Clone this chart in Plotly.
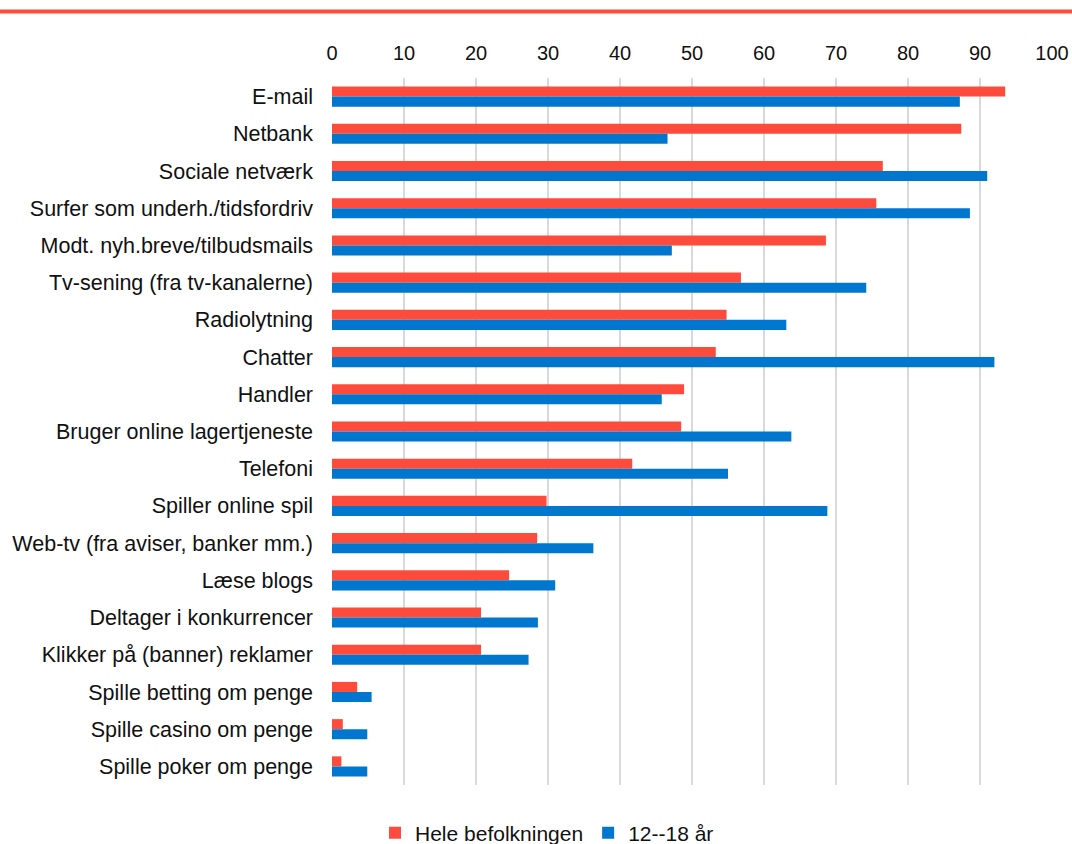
import plotly.graph_objects as go

# Internet activities, share in percent
categories = [
    "E-mail", "Netbank", "Sociale netværk", "Surfer som underh./tidsfordriv",
    "Modt. nyh.breve/tilbudsmails", "Tv-sening (fra tv-kanalerne)", "Radiolytning",
    "Chatter", "Handler", "Bruger online lagertjeneste", "Telefoni",
    "Spiller online spil", "Web-tv (fra aviser, banker mm.)", "Læse blogs",
    "Deltager i konkurrencer", "Klikker på (banner) reklamer",
    "Spille betting om penge", "Spille casino om penge", "Spille poker om penge",
]
hele_befolkningen = [93.5, 87.4, 76.5, 75.6, 68.6, 56.8, 54.8, 53.3, 48.9, 48.5,
                     41.7, 29.8, 28.5, 24.6, 20.7, 20.7, 3.5, 1.5, 1.3]
unge_12_18 = [87.2, 46.6, 91.0, 88.6, 47.2, 74.2, 63.1, 92.0, 45.8, 63.8,
              55.0, 68.8, 36.3, 31.0, 28.6, 27.3, 5.5, 4.9, 4.9]
x_ticks = list(range(0, 101, 10))

RED = "#FF4B3C"
BLUE = "#0077CE"
FONT = "Liberation Sans, Arial, sans-serif"

W, H = 1072, 844
ML, MR, MT, MB = 332, 20, 78, 59
pw, ph = W - ML - MR, H - MT - MB

fig = go.Figure()
fig.add_trace(go.Bar(y=categories, x=hele_befolkningen, name="Hele befolkningen",
                     orientation="h", marker=dict(color=RED, line=dict(width=0))))
fig.add_trace(go.Bar(y=categories, x=unge_12_18, name="12--18 år",
                     orientation="h", marker=dict(color=BLUE, line=dict(width=0))))

fig.update_layout(
    width=W, height=H,
    margin=dict(l=ML, r=MR, t=MT, b=MB, autoexpand=False),
    paper_bgcolor="white", plot_bgcolor="white",
    font=dict(family=FONT, size=21.5, color="#111111"),
    barmode="group", bargap=0.46, bargroupgap=0,
    showlegend=True,
    legend=dict(orientation="h", xref="container", yref="container",
                x=547 / W, xanchor="center", y=1 - 833 / H, yanchor="middle",
                font=dict(size=21), traceorder="normal",
                itemwidth=30, tracegroupgap=0),
    xaxis=dict(side="top", range=[0, 100], tickvals=x_ticks, showgrid=True,
               gridcolor="#D9D9D9", gridwidth=1.5, zeroline=False,
               showline=False, ticks="", ticklabelstandoff=13,
               tickfont=dict(size=20)),
    yaxis=dict(autorange="reversed", showgrid=False, showline=False,
               ticks="", ticklabelstandoff=18),
    shapes=[dict(type="line", xref="paper", yref="paper",
                 x0=-0.6, x1=1.2,
                 y0=1 + (MT - 11.5) / ph, y1=1 + (MT - 11.5) / ph,
                 line=dict(color=RED, width=4))],
)

fig.write_html("out.html")
